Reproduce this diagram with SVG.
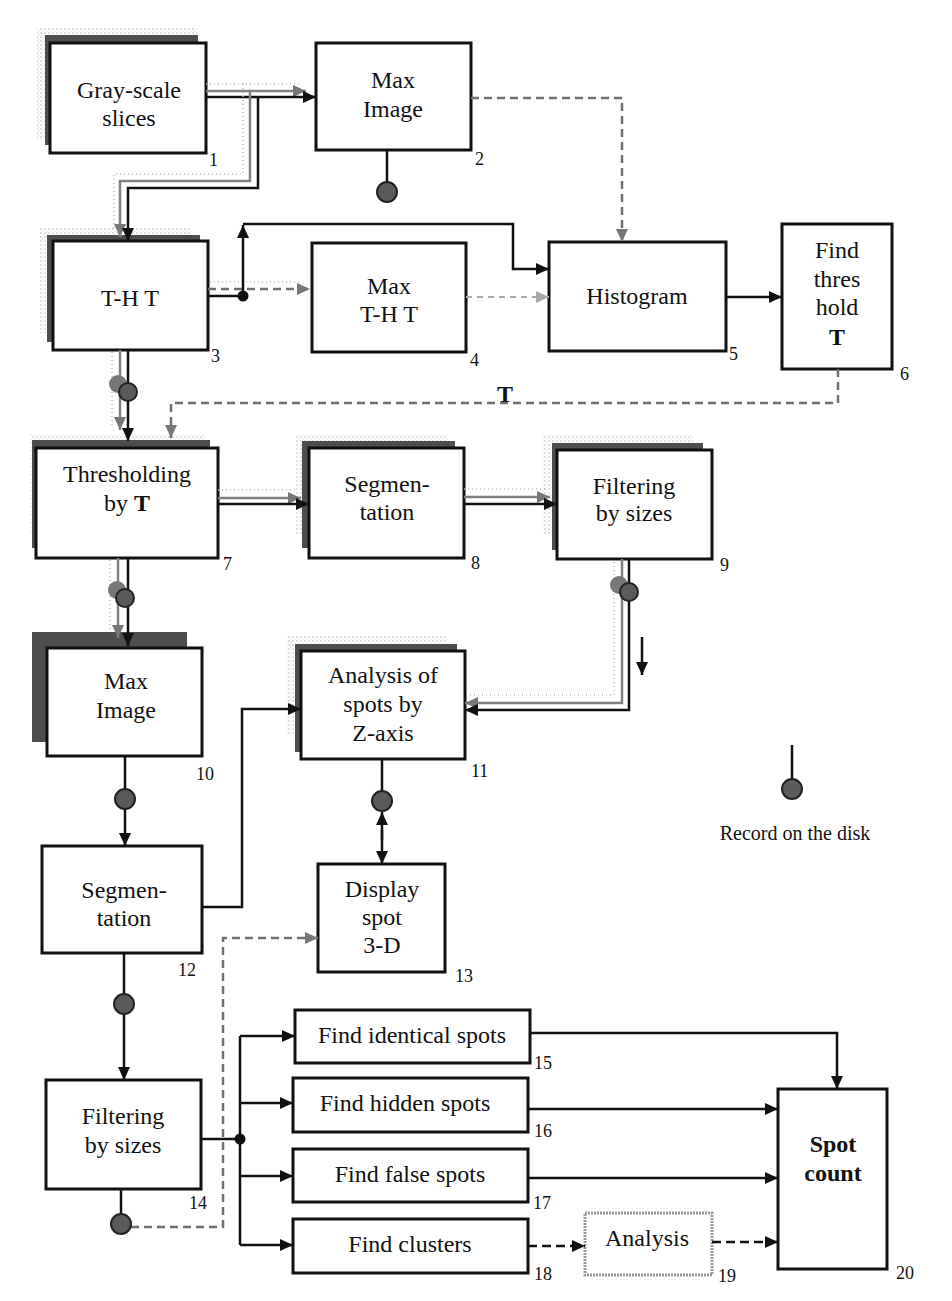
<svg xmlns="http://www.w3.org/2000/svg" width="952" height="1301" viewBox="0 0 952 1301">
<style>
.box{fill:#fff;stroke:#111;stroke-width:3}
.sh{fill:#4d4d4d}
.st{fill:url(#dots)}
.t{font-family:"Liberation Serif","Times New Roman",serif;font-size:24px;text-anchor:middle;fill:#111}
.n{font-family:"Liberation Serif","Times New Roman",serif;font-size:18px;fill:#111}
.b{font-weight:bold}
.c{fill:none;stroke:#111;stroke-width:2.5}
.g{fill:none;stroke:#808080;stroke-width:2.5}
.gd{fill:none;stroke:#707070;stroke-width:2.5;stroke-dasharray:8 5}
.lgd{fill:none;stroke:#aaa;stroke-width:2;stroke-dasharray:6 5}
.dot{fill:none;stroke:#bbb;stroke-width:1.5;stroke-dasharray:1 3}
.kd{fill:none;stroke:#111;stroke-width:2.5;stroke-dasharray:9 5}
.disk{fill:#5a5a5a;stroke:#222;stroke-width:2}
.gdisk{fill:#777;stroke:none}
</style>
<defs>
<pattern id="dots" width="4" height="4" patternUnits="userSpaceOnUse">
<rect width="4" height="4" fill="#fff"/>
<circle cx="1" cy="1" r="0.7" fill="#a5a5a5"/>
<circle cx="3" cy="3" r="0.5" fill="#c0c0c0"/>
</pattern>
<marker id="ak" markerUnits="userSpaceOnUse" markerWidth="13" markerHeight="12" refX="13" refY="6" orient="auto"><path d="M0,0 L13,6 L0,12 z" fill="#111"/></marker>
<marker id="ag" markerUnits="userSpaceOnUse" markerWidth="13" markerHeight="12" refX="13" refY="6" orient="auto"><path d="M0,0 L13,6 L0,12 z" fill="#777"/></marker>
<marker id="alg" markerUnits="userSpaceOnUse" markerWidth="13" markerHeight="12" refX="13" refY="6" orient="auto"><path d="M0,0 L13,6 L0,12 z" fill="#aaa"/></marker>
</defs>
<rect width="952" height="1301" fill="#fff"/>

<g id="n1">
<rect class="st" x="37" y="28" width="160" height="110"/>
<rect class="sh" x="45" y="35" width="153" height="110"/>
<rect class="box" x="50" y="43" width="156" height="110"/>
<text class="t" x="129" y="98">Gray-scale</text>
<text class="t" x="129" y="126">slices</text>
<text class="n" x="209" y="166">1</text>
</g>
<g id="n2">
<rect class="box" x="316" y="43" width="155" height="107"/>
<text class="t" x="393" y="88">Max</text>
<text class="t" x="393" y="117">Image</text>
<text class="n" x="475" y="165">2</text>
</g>
<g id="n3">
<rect class="st" x="40" y="228" width="150" height="105"/>
<rect class="sh" x="47" y="235" width="153" height="107"/>
<rect class="box" x="53" y="241" width="155" height="109"/>
<text class="t" x="130" y="306">T-H T</text>
<text class="n" x="211" y="362">3</text>
</g>
<g id="n4">
<rect class="box" x="312" y="243" width="154" height="109"/>
<text class="t" x="389" y="294">Max</text>
<text class="t" x="389" y="322">T-H T</text>
<text class="n" x="470" y="366">4</text>
</g>
<g id="n5">
<rect class="box" x="549" y="242" width="177" height="109"/>
<text class="t" x="637" y="304">Histogram</text>
<text class="n" x="729" y="360">5</text>
</g>
<g id="n6">
<rect class="box" x="782" y="224" width="110" height="145"/>
<text class="t" x="837" y="258">Find</text>
<text class="t" x="837" y="287">thres</text>
<text class="t" x="837" y="315">hold</text>
<text class="t b" x="837" y="345">T</text>
<text class="n" x="900" y="380">6</text>
</g>
<g id="labelT">
<text class="t b" x="505" y="402">T</text>
</g>
<g id="n7">
<rect class="st" x="30" y="434" width="175" height="100"/>
<rect class="sh" x="32" y="440" width="178" height="108"/>
<rect class="box" x="36" y="448" width="182" height="110"/>
<text class="t" x="127" y="482">Thresholding</text>
<text class="t" x="127" y="511">by <tspan class="b">T</tspan></text>
<text class="n" x="223" y="570">7</text>
</g>
<g id="n8">
<rect class="st" x="296" y="434" width="152" height="100"/>
<rect class="sh" x="302" y="441" width="153" height="107"/>
<rect class="box" x="309" y="448" width="155" height="110"/>
<text class="t" x="387" y="492">Segmen-</text>
<text class="t" x="387" y="520">tation</text>
<text class="n" x="471" y="569">8</text>
</g>
<g id="n9">
<rect class="st" x="543" y="435" width="150" height="100"/>
<rect class="sh" x="552" y="443" width="151" height="107"/>
<rect class="box" x="557" y="450" width="155" height="109"/>
<text class="t" x="634" y="494">Filtering</text>
<text class="t" x="634" y="521">by sizes</text>
<text class="n" x="720" y="571">9</text>
</g>
<g id="n10">
<rect class="sh" x="32" y="632" width="155" height="110"/>
<rect class="box" x="47" y="648" width="155" height="108"/>
<text class="t" x="126" y="689">Max</text>
<text class="t" x="126" y="718">Image</text>
<text class="n" x="196" y="780">10</text>
</g>
<g id="n11">
<rect class="st" x="287" y="636" width="160" height="100"/>
<rect class="sh" x="295" y="644" width="162" height="108"/>
<rect class="box" x="301" y="651" width="164" height="108"/>
<text class="t" x="383" y="683">Analysis of</text>
<text class="t" x="383" y="712">spots by</text>
<text class="t" x="383" y="741">Z-axis</text>
<text class="n" x="471" y="777">11</text>
</g>
<g id="n12">
<rect class="box" x="42" y="846" width="160" height="107"/>
<text class="t" x="124" y="898">Segmen-</text>
<text class="t" x="124" y="926">tation</text>
<text class="n" x="178" y="976">12</text>
</g>
<g id="n13">
<rect class="box" x="318" y="864" width="127" height="108"/>
<text class="t" x="382" y="897">Display</text>
<text class="t" x="382" y="925">spot</text>
<text class="t" x="382" y="953">3-D</text>
<text class="n" x="455" y="982">13</text>
</g>
<g id="n14">
<rect class="box" x="46" y="1080" width="155" height="109"/>
<text class="t" x="123" y="1124">Filtering</text>
<text class="t" x="123" y="1153">by sizes</text>
<text class="n" x="189" y="1209">14</text>
</g>
<g id="n15">
<rect class="box" x="295" y="1010" width="235" height="53"/>
<text class="t" x="412" y="1043">Find identical spots</text>
<text class="n" x="534" y="1069">15</text>
</g>
<g id="n16">
<rect class="box" x="293" y="1078" width="235" height="54"/>
<text class="t" x="405" y="1111">Find hidden spots</text>
<text class="n" x="534" y="1137">16</text>
</g>
<g id="n17">
<rect class="box" x="293" y="1149" width="235" height="53"/>
<text class="t" x="410" y="1182">Find false spots</text>
<text class="n" x="533" y="1209">17</text>
</g>
<g id="n18">
<rect class="box" x="293" y="1219" width="235" height="54"/>
<text class="t" x="410" y="1252">Find clusters</text>
<text class="n" x="534" y="1280">18</text>
</g>
<g id="n19">
<rect x="585" y="1213" width="127" height="62" fill="#fff" stroke="#999" stroke-width="3" stroke-dasharray="2 1"/>
<text class="t" x="647" y="1246">Analysis</text>
<text class="n" x="718" y="1282">19</text>
</g>
<g id="n20">
<rect class="box" x="778" y="1089" width="109" height="180"/>
<text class="t b" x="833" y="1152">Spot</text>
<text class="t b" x="833" y="1181">count</text>
<text class="n" x="896" y="1279">20</text>
</g>
<g id="legend">
<path class="c" d="M792,745 V780"/>
<circle class="disk" cx="792" cy="789" r="10"/>
<text class="n" x="795" y="840" style="font-size:20px;text-anchor:middle">Record on the disk</text>
</g>

<g id="connectors">
<path class="dot" d="M206,84 H300"/>
<path class="g" d="M206,91 H306" marker-end="url(#ag)"/>
<path class="c" d="M206,97 H316" marker-end="url(#ak)"/>
<path class="dot" d="M243,84 V174 H114 V230"/>
<path class="g" d="M250,91 V181 H120 V237" marker-end="url(#ag)"/>
<path class="c" d="M258,97 V188 H128 V241" marker-end="url(#ak)"/>
<path class="c" d="M387,150 V182"/>
<circle class="disk" cx="387" cy="192" r="10"/>
<path class="gd" d="M471,98 H622 V242" marker-end="url(#ag)"/>
<path class="dot" d="M210,282 H300"/>
<path class="gd" d="M208,289 H310" marker-end="url(#ag)"/>
<path class="c" d="M208,296 H243"/>
<circle cx="243" cy="296" r="5.5" fill="#111"/>
<path class="c" d="M243,296 V225" marker-end="url(#ak)"/>
<path class="c" d="M243,224 H513 V269 H549" marker-end="url(#ak)"/>
<path class="lgd" d="M466,297 H549" marker-end="url(#alg)"/>
<path class="c" d="M726,297 H782" marker-end="url(#ak)"/>
<path class="gd" d="M838,369 V403 H171 V438" marker-end="url(#ag)"/>
<path class="dot" d="M112,352 V428"/>
<path class="g" d="M120,350 V430" marker-end="url(#ag)"/>
<circle class="gdisk" cx="118" cy="384" r="9"/>
<path class="c" d="M128,350 V441" marker-end="url(#ak)"/>
<circle class="disk" cx="128" cy="392" r="9"/>
<path class="dot" d="M218,490 H298"/>
<path class="g" d="M218,498 H301" marker-end="url(#ag)"/>
<path class="c" d="M218,504 H309" marker-end="url(#ak)"/>
<path class="dot" d="M464,489 H548"/>
<path class="g" d="M464,497 H550" marker-end="url(#ag)"/>
<path class="c" d="M464,504 H557" marker-end="url(#ak)"/>
<path class="dot" d="M614,562 V695 H470"/>
<path class="g" d="M622,559 V703 H465" marker-end="url(#ag)"/>
<circle class="gdisk" cx="619" cy="585" r="9"/>
<path class="c" d="M629,559 V710 H465" marker-end="url(#ak)"/>
<circle class="disk" cx="629" cy="592" r="9"/>
<path class="c" d="M642,637 V675" marker-end="url(#ak)"/>
<path class="dot" d="M110,560 V632"/>
<path class="g" d="M118,558 V638" marker-end="url(#ag)"/>
<circle class="gdisk" cx="117" cy="590" r="9"/>
<path class="c" d="M128,558 V646" marker-end="url(#ak)"/>
<circle class="disk" cx="125" cy="598" r="9"/>
<path class="c" d="M125,756 V846" marker-end="url(#ak)"/>
<circle class="disk" cx="125" cy="799" r="10"/>
<path class="c" d="M202,907 H242 V709 H301" marker-end="url(#ak)"/>
<path class="c" d="M382,759 V792"/>
<circle class="disk" cx="382" cy="801" r="10"/>
<path class="c" d="M382,840 V812" marker-end="url(#ak)"/>
<path class="c" d="M382,830 V864" marker-end="url(#ak)"/>
<path class="c" d="M124,953 V1080" marker-end="url(#ak)"/>
<circle class="disk" cx="124" cy="1004" r="10"/>
<path class="c" d="M121,1189 V1215"/>
<path class="gd" d="M131,1227 H223 V938 H318" marker-end="url(#ag)"/>
<circle class="disk" cx="121" cy="1224" r="10"/>
<path class="c" d="M201,1139 H240"/>
<circle cx="240" cy="1139" r="5.5" fill="#111"/>
<path class="c" d="M240,1036 V1245"/>
<path class="c" d="M240,1036 H295" marker-end="url(#ak)"/>
<path class="c" d="M240,1103 H293" marker-end="url(#ak)"/>
<path class="c" d="M240,1176 H293" marker-end="url(#ak)"/>
<path class="c" d="M240,1245 H293" marker-end="url(#ak)"/>
<path class="c" d="M530,1033 H837 V1089" marker-end="url(#ak)"/>
<path class="c" d="M528,1109 H778" marker-end="url(#ak)"/>
<path class="c" d="M528,1178 H778" marker-end="url(#ak)"/>
<path class="kd" d="M528,1246 H585" marker-end="url(#ak)"/>
<path class="kd" d="M712,1242 H778" marker-end="url(#ak)"/>
</g>
</svg>
